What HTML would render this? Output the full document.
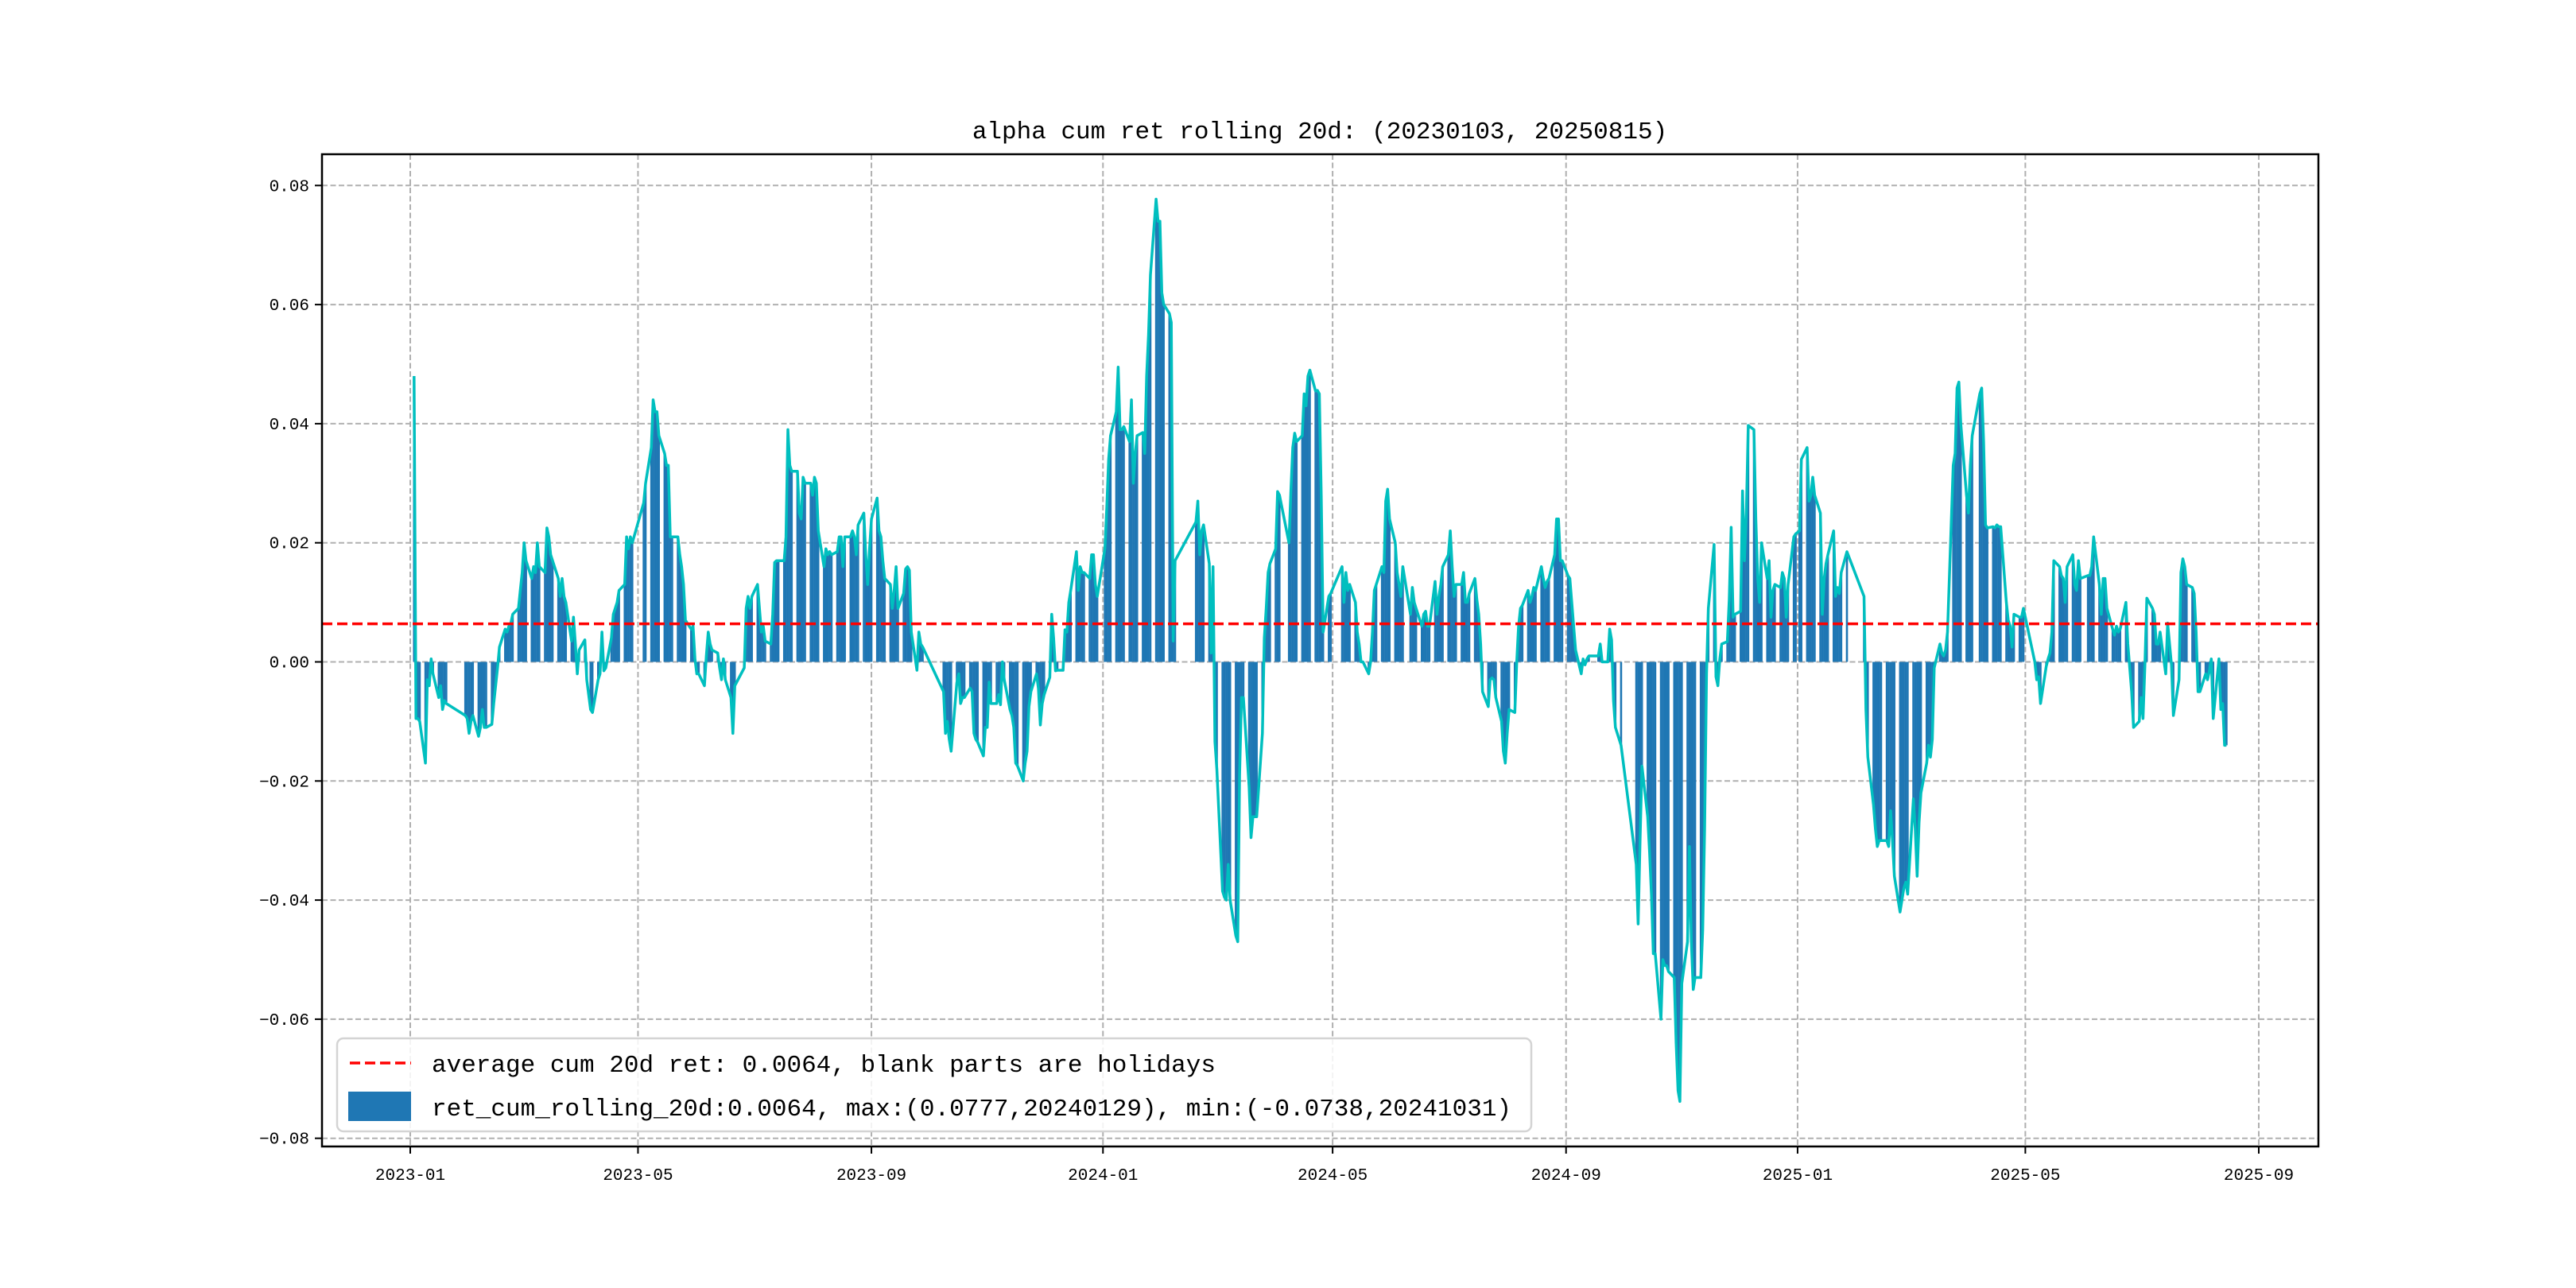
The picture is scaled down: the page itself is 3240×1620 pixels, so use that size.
<!DOCTYPE html>
<html>
<head>
<meta charset="utf-8">
<style>
  html,body{margin:0;padding:0;background:#fff;}
  svg{display:block;}
  text{font-family:"Liberation Mono","Noto Sans CJK SC",monospace;}
</style>
</head>
<body>
<svg id="chart" xmlns="http://www.w3.org/2000/svg" width="3240" height="1620" viewBox="0 0 3240 1620">
  <rect x="0" y="0" width="3240" height="1620" fill="#ffffff"/>
  <text x="1660" y="174" font-size="31" text-anchor="middle" fill="#000">alpha cum ret rolling 20d: (20230103, 20250815)</text>
  <g id="grid"></g>
  <g id="bars"></g>
  <g id="line"></g>
  <g id="avg"></g>
  <g id="axes"></g>
  <g id="legend">
    <rect x="424" y="1306" width="1502" height="117" rx="8" ry="8" fill="#ffffff" fill-opacity="0.85" stroke="#d4d4d4" stroke-width="2.5"/>
    <line x1="440" y1="1337" x2="517" y2="1337" stroke="#ff0000" stroke-width="3.5" stroke-dasharray="13,6"/>
    <text x="543" y="1348" font-size="31" fill="#000">average cum 20d ret: 0.0064, blank parts are holidays</text>
    <rect x="438" y="1373" width="79" height="37" fill="#1f77b4"/>
    <text x="543" y="1403" font-size="31" fill="#000">ret_cum_rolling_20d:0.0064, max:(0.0777,20240129), min:(-0.0738,20241031)</text>
  </g>
</svg>
<script>
// ---- data (values in units of 0.001) ----
const firstWeekMonday = "2023-01-02";
const holidays = ["2023-01-02","2023-01-23","2023-01-24","2023-01-25","2023-01-26","2023-01-27","2023-04-05","2023-05-01","2023-05-02","2023-05-03","2023-06-22","2023-06-23","2023-09-29","2023-10-02","2023-10-03","2023-10-04","2023-10-05","2023-10-06","2024-01-01","2024-02-09","2024-02-12","2024-02-13","2024-02-14","2024-02-15","2024-02-16","2024-04-04","2024-04-05","2024-05-01","2024-05-02","2024-05-03","2024-06-10","2024-09-16","2024-09-17","2024-10-01","2024-10-02","2024-10-03","2024-10-04","2024-10-07","2025-01-01","2025-01-28","2025-01-29","2025-01-30","2025-01-31","2025-02-03","2025-02-04","2025-04-04","2025-05-01","2025-05-02","2025-05-05","2025-06-02"];
const weekValues = [
[48,-9.5,-9.5,-10],[-17,-3,-4,0.5,-2],[-6,-4,-8,-6.5,-7],[],[-9,-9.5,-12,-10,-9],
[-12.5,-11,-8,-11,-11],[-10.5,-7,-4,-1,2.5],[5.5,5,6,6.5,8],[9,12,15,20,17],[14,16,15,20,16],
[15,22.5,21,18,17],[14,11,14,11,10],[3.5,7.5,3,-2,2],[3.7,-3,-8,-8.5],[-3,-2,5,-1.5,-1],
[4,8,9,10,12],[13,21,19,21,20],[26.7,30],[36,44,42,42,38],[35,33,33,21,21],
[21,18,16,13,7],[5.5,6,0.5,-2,-2],[-4,1,5,3,2],[1.5,-1,-3,0.5,-3],[-6,-12,-4],
[-1,9,11,9,11],[13,9,5,6,3.5],[3,8,16.7,17,17],[17,21,39,33,32],[32,25,24,31,30],
[30,28,31,30,22],[16,19,18,18.5,18],[18.5,21,21,16,21],[21,22,21,18,23],[25,18,13,19,24],
[27.5,22,21,17,14],[13,9,12,16,9],[11.5,15.6,16,15.4,5],[-1.4,5,3,2.5],[],
[-5,-12,-10,-13,-15],[-3.5,-2,-7,-6,-6],[-4.4,-5,-12,-13,-13.5],[-15.8,-11,-11,-3.4,-7],[-7,-5.5,-7.2,0,-3],
[-8,-9,-11,-17,-17.5],[-20,-17,-15,-7.5,-5],[-2,-4.5,-10.6,-7,-5.5],[-2.6,8,4,-1.5,-1.4],[-1.4,5.4,5,10,12],
[18.5,12,16,15,15],[14,18,18,13,11],[19,26,34,38],[42,49.5,39,39,39.5],[37,44,30,35,38],
[38.5,35,48,55,65],[77.7,74,74,62,60],[58.5,57,3.5,17],[],[23.5,27,18,22,23],
[16.5,1.5,16,-13.4,-18],[-38.5,-39.5,-40,-34,-40],[-46,-47,-19,-6,-6],[-21,-29.5,-26,-26,-26],[-12,4,9,15,16.5],
[19,28.6,28],[20,28.6,36,38.4,37],[38,45,43,48,49],[45.5,45.6,45,28,5],[11,11.5],
[16,10,15,12,13],[10,5,3,0,0],[-2,0,5,12,13],[16,15,27,29,24],[20,15,13,11,16],
[8,12.5,10,9],[6,8,8.5,6,6],[13.5,8,11,13,16],[18,22,16,11,13],[13,15,10,10,11.5],
[14,10.5,8,3,-5],[-7.5,-3,-2.7,-3,-6],[-10,-15,-17,-12,-8],[-8.5,0,6,9,9.5],[12,10,11,12.5,12],
[16,14,12.5,13.5,14],[18,24,24,17,17],[14.5,14,10,6,2],[-2,0.5,-0.5,0.5,1],[1,3,0],
[0,5.5,3.7,-6.5,-11],[-14],[-34,-44,-30,-17.5],[-26,-32,-39,-49,-49],[-60,-50,-51,-51,-52],
[-53,-64,-72,-73.8,-54],[-47,-31,-47,-55,-53],[-53,-45,-28,-2,9],[19.7,-2.5,-4,0.5,3],[3.4,10.5,22.6,7.5,8],
[8.5,28.7,17,25,39.7],[39,24,14,10,20],[14,17,7.5,12,13],[12.5,15,14,7.5,13],[21,21.5,22,34],
[36,27,28,31,28],[25,8,14,16.5,18],[22,11,12.5,11.5,15],[18.5],[11,-8,-16],
[-24,-28,-31,-30,-30],[-30,-31,-25,-30,-36],[-42,-40,-38,-37,-39],[-23,-28,-36,-27,-22],[-17,-14,-16,-13,-1],
[3,1.5,1,2,5],[33,35,46,47,40],[28,25,33,38],[45,46,37,23,22.5],[22.7,22.5,23,22.7,22.7],
[10,7,6,2.5,8],[7.5,7.5,9],[0,-3,-2.5,-7],[-0.8,0.5,1.5,5,17],[16,14.5,14,10,16],
[18,13,12,17,14],[14.5,14.5,16,21],[13,8,14,14,9],[5.5,4.5,6,5,5.5],[10,3,-1,-5,-11],
[-10,-6,-9.5,-0.5,10.7],[9,8,3,3,5],[-2,6.5,3,-0.5,-9],[-3,15,17.3,16,13],[12.5,11.5,5,-5,-5],
[-2,-3,-1.5,0.5,-9.5],[0.5,-8,-7,-14,-14]
];
const averageValue = 0.0064;
const yTickValues = [0.08,0.06,0.04,0.02,0,-0.02,-0.04,-0.06,-0.08];
const yTickLabels = ["0.08","0.06","0.04","0.02","0.00","\u22120.02","\u22120.04","\u22120.06","\u22120.08"];
const xTickDates = ["2023-01-01","2023-05-01","2023-09-01","2024-01-01","2024-05-01","2024-09-01","2025-01-01","2025-05-01","2025-09-01"];
const xTickLabels = ["2023-01","2023-05","2023-09","2024-01","2024-05","2024-09","2025-01","2025-05","2025-09"];

// ---- axes functions ----
const NS = "http://www.w3.org/2000/svg";
const PL = 405, PR = 2916, PT = 194, PB = 1442;
const DAY = 86400000;
const T0 = Date.UTC(2023,0,1);
function parseD(s){const p=s.split("-");return Date.UTC(+p[0],+p[1]-1,+p[2]);}
function xScale(t){return 516 + (t - T0)/DAY * 2.38706;}
function yScale(v){return 832.5 - v*7490;}
function mk(tag, attrs, parent){const e=document.createElementNS(NS,tag);for(const k in attrs)e.setAttribute(k,attrs[k]);parent.appendChild(e);return e;}
function fmt(t){const d=new Date(t);return d.toISOString().slice(0,10);}

const holidaySet = new Set(holidays);
const dates = [], values = [];
const mon0 = parseD(firstWeekMonday);
weekValues.forEach((wk, i) => {
  const days = [];
  for (let k=0;k<5;k++){const t=mon0+(i*7+k)*DAY;if(!holidaySet.has(fmt(t)))days.push(t);}
  wk.forEach((v,j)=>{ if(j<days.length){dates.push(days[j]);values.push(v/1000);} });
});

const grid = document.getElementById("grid");
yTickValues.forEach(v=>{
  const y=yScale(v);
  const l=mk("line",{x1:PL,x2:PR,y1:y,y2:y,stroke:"#b0b0b0","stroke-width":2,"stroke-dasharray":"7,3.5"},grid);
  
  
});
xTickDates.forEach(d=>{
  const x=xScale(parseD(d));
  const l=mk("line",{x1:x,x2:x,y1:PT,y2:PB,stroke:"#b0b0b0","stroke-width":2,"stroke-dasharray":"7,3.5"},grid);
  
  
});

const bars = document.getElementById("bars");
const bw = 2.6;
dates.forEach((t,i)=>{
  const v=values[i], x=xScale(t), y0=yScale(0), y1=yScale(v);
  const r=mk("rect",{x:x-bw/2,y:Math.min(y0,y1),width:bw,height:Math.abs(y1-y0),fill:"#1f77b4"},bars);
  
  
});

const lineG = document.getElementById("line");
const pts = dates.map((t,i)=>xScale(t).toFixed(1)+","+yScale(values[i]).toFixed(1)).join(" ");
const pl = mk("polyline",{points:pts,fill:"none",stroke:"#00bfbf","stroke-width":3.5,"stroke-linejoin":"round"},lineG);



const avgG = document.getElementById("avg");
const ay = yScale(averageValue);
const al = mk("line",{x1:PL,x2:PR,y1:ay,y2:ay,stroke:"#ff0000","stroke-width":3.5,"stroke-dasharray":"13,6"},avgG);



const axes = document.getElementById("axes");
const frame = mk("rect",{x:PL,y:PT,width:PR-PL,height:PB-PT,fill:"none",stroke:"#000","stroke-width":2.5},axes);


yTickValues.forEach((v,i)=>{
  const y=yScale(v);
  const tk=mk("line",{x1:PL-9,x2:PL,y1:y,y2:y,stroke:"#000","stroke-width":2},axes);
  
  
  const tx=mk("text",{x:PL-16,y:y+7,"font-size":21,"text-anchor":"end",fill:"#000"},axes);
  tx.textContent=yTickLabels[i];
  
  
});
xTickDates.forEach((d,i)=>{
  const x=xScale(parseD(d));
  const tk=mk("line",{x1:x,x2:x,y1:PB,y2:PB+9,stroke:"#000","stroke-width":2},axes);
  
  
  const tx=mk("text",{x:x,y:PB+42,"font-size":21,"text-anchor":"middle",fill:"#000"},axes);
  tx.textContent=xTickLabels[i];
  
  
});
</script>
</body>
</html>
